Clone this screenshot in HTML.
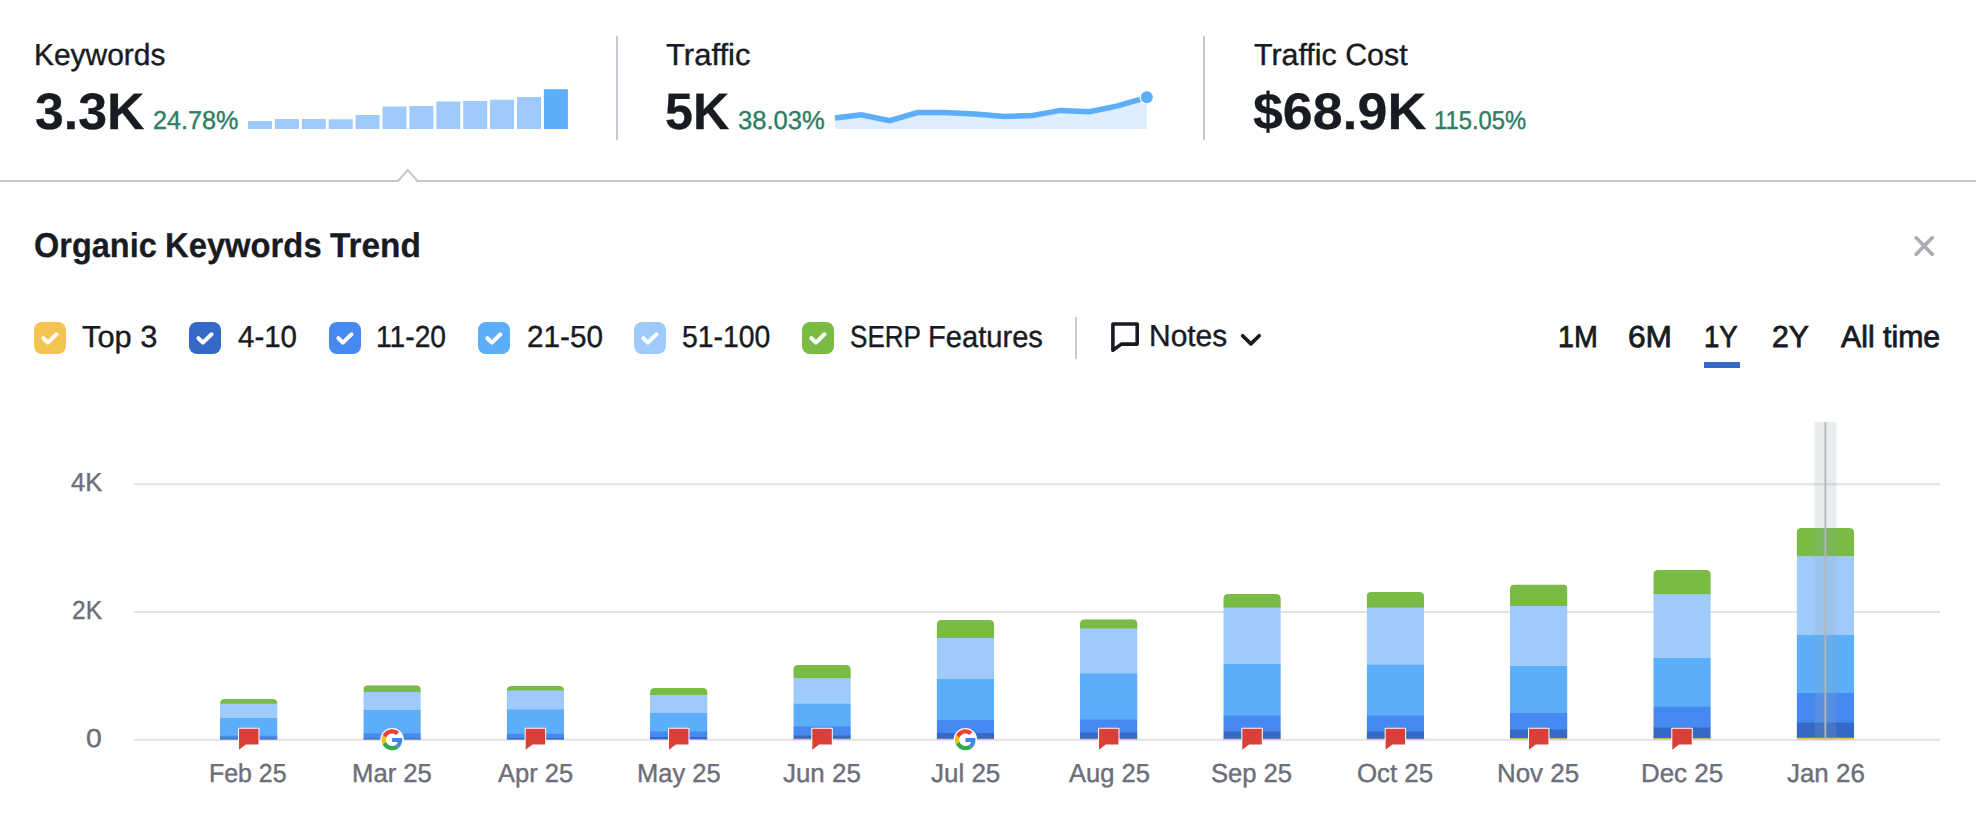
<!DOCTYPE html>
<html lang="en"><head><meta charset="utf-8"><title>Organic Keywords Trend</title>
<style>
html,body{margin:0;padding:0;background:#fff}
body{width:1976px;height:832px;overflow:hidden;position:relative;font-family:"Liberation Sans",Arial,sans-serif;text-rendering:geometricPrecision}
h2,nav,section,label,figure,div{margin:0;padding:0}
.abs{position:absolute}
.t{position:absolute;white-space:pre;line-height:1;display:block;transform-origin:0 0;-webkit-text-stroke:0.4px currentColor}
.val,.title{-webkit-text-stroke:0.3px currentColor}
.tab{-webkit-text-stroke:0.8px currentColor}
.vdiv{position:absolute;width:2px;background:#c4c7cf}
.hr{position:absolute;left:0;top:180px;width:1976px;height:2px;background:#c4c7cf}
.cb{position:absolute;top:322px;width:32px;height:32px;border-radius:8px;display:block}
.cb svg{display:block}
.lbl{font-size:30.4px}.leg{font-size:30.4px}.notes{font-size:30.4px}.tab{font-size:30.4px}.val{font-size:51.4px}.pct{font-size:25.9px}.title{font-size:34.4px}.ytick{font-size:26px}.xtick{font-size:26px}
.ul{position:absolute;left:1704px;top:362px;width:36px;height:6px;background:#3569c7}
</style></head>
<body>
<section class="summary">
<div class="metric metric-keywords"><span class="t lbl" style="left:33.53px;top:40px;font-weight:400;color:#191b23;transform:scaleX(0.9843)">Keywords</span><span class="t val" style="left:34.79px;top:86px;font-weight:700;color:#191b23;transform:scaleX(1.0074)">3.3K</span><span class="t pct" style="left:152.78px;top:109px;font-weight:400;color:#2f7d64;transform:scaleX(0.9738)">24.78%</span>
<svg class="abs" style="left:0;top:0" width="600" height="140" viewBox="0 0 600 140"><rect x="248.0" y="121" width="24" height="8" fill="#9fcbfc"/><rect x="274.9" y="119" width="24" height="10" fill="#9fcbfc"/><rect x="301.8" y="119" width="24" height="10" fill="#9fcbfc"/><rect x="328.7" y="119.25" width="24" height="9.75" fill="#9fcbfc"/><rect x="355.6" y="115" width="24" height="14" fill="#9fcbfc"/><rect x="382.5" y="106.5" width="24" height="22.5" fill="#9fcbfc"/><rect x="409.4" y="106" width="24" height="23" fill="#9fcbfc"/><rect x="436.3" y="101.5" width="24" height="27.5" fill="#9fcbfc"/><rect x="463.2" y="101" width="24" height="28" fill="#9fcbfc"/><rect x="490.1" y="99.75" width="24" height="29.25" fill="#9fcbfc"/><rect x="517.0" y="97" width="24" height="32" fill="#9fcbfc"/><rect x="543.9" y="89.25" width="24" height="39.75" fill="#5cadfa"/></svg>
</div>
<div class="vdiv" style="left:616px;top:36px;height:104px"></div>
<div class="metric metric-traffic"><span class="t lbl" style="left:666.30px;top:40px;font-weight:400;color:#191b23;transform:scaleX(1.0208)">Traffic</span><span class="t val" style="left:665.27px;top:86px;font-weight:700;color:#191b23;transform:scaleX(0.9766)">5K</span><span class="t pct" style="left:738.26px;top:109px;font-weight:400;color:#2f7d64;transform:scaleX(0.9884)">38.03%</span>
<svg class="abs" style="left:0;top:0" width="1200" height="140" viewBox="0 0 1200 140">
<path d="M835,129 L835,118.10000000000001 L861.2,114.7 L889.7,120.7 L917.4,112.5 L943.6,112.60000000000001 L975.4,114.10000000000001 L1004.4,116.60000000000001 L1032.5,115.4 L1060.6,110.4 L1089.6,111.7 L1117.7,105.9 L1146.8,97.30000000000001 L1146.8,129 Z" fill="#deeefe"/>
<polyline points="835,118.10000000000001 861.2,114.7 889.7,120.7 917.4,112.5 943.6,112.60000000000001 975.4,114.10000000000001 1004.4,116.60000000000001 1032.5,115.4 1060.6,110.4 1089.6,111.7 1117.7,105.9 1146.8,97.30000000000001" fill="none" stroke="#5cadfa" stroke-width="5.5" stroke-linejoin="miter"/>
<circle cx="1146.8" cy="97.30000000000001" r="7.2" fill="#fff"/>
<circle cx="1146.8" cy="97.30000000000001" r="6" fill="#5cadfa"/>
</svg>
</div>
<div class="vdiv" style="left:1203px;top:36px;height:104px"></div>
<div class="metric metric-cost"><span class="t lbl" style="left:1253.56px;top:40px;font-weight:400;color:#191b23;transform:scaleX(0.9999)">Traffic Cost</span><span class="t val" style="left:1253.29px;top:86px;font-weight:700;color:#191b23;transform:scaleX(1.0452)">$68.9K</span><span class="t pct" style="left:1433.69px;top:109px;font-weight:400;color:#2f7d64;transform:scaleX(0.9194)">115.05%</span></div>
<div class="hr"></div>
<svg class="abs" style="left:390px;top:164px" width="36" height="20" viewBox="390 164 36 20"><path d="M398.5,182 L407.75,170.5 L417,182 Z" fill="#fff"/><path d="M398,181 L407.75,170 L417.5,181" fill="none" stroke="#c4c7cf" stroke-width="2" stroke-linejoin="miter"/></svg>
</section>
<section class="trend">
<h2><span class="t title" style="left:34.26px;top:229px;font-weight:700;color:#191b23;transform:scaleX(0.9445)">Organic </span><span class="t title" style="left:164.69px;top:229px;font-weight:700;color:#191b23;transform:scaleX(0.9528)">Keywords </span><span class="t title" style="left:330.00px;top:229px;font-weight:700;color:#191b23;transform:scaleX(0.9705)">Trend</span></h2>
<div class="close"><svg class="abs" style="left:1910px;top:232px" width="28" height="28" viewBox="1910 232 28 28"><path d="M1916.2,237.8 L1932.2,254.2 M1932.2,237.8 L1916.2,254.2" stroke="#a9abb6" stroke-width="3.6" stroke-linecap="round" fill="none"/></svg></div>
<div class="legend">
<label class="legend-item"><span class="cb" style="left:34px;background:#f4c451"><svg width="32" height="32" viewBox="0 0 32 32"><polyline points="9.4,16.2 13.9,20.6 22.5,12.3" fill="none" stroke="#fff" stroke-width="4" stroke-linecap="round" stroke-linejoin="round"/></svg></span><span class="t leg" style="left:82.30px;top:322px;font-weight:400;color:#191b23;transform:scaleX(1.0128)">Top 3</span></label>
<label class="legend-item"><span class="cb" style="left:189px;background:#3569c7"><svg width="32" height="32" viewBox="0 0 32 32"><polyline points="9.4,16.2 13.9,20.6 22.5,12.3" fill="none" stroke="#fff" stroke-width="4" stroke-linecap="round" stroke-linejoin="round"/></svg></span><span class="t leg" style="left:237.57px;top:322px;font-weight:400;color:#191b23;transform:scaleX(0.9697)">4-10</span></label>
<label class="legend-item"><span class="cb" style="left:329px;background:#4689f1"><svg width="32" height="32" viewBox="0 0 32 32"><polyline points="9.4,16.2 13.9,20.6 22.5,12.3" fill="none" stroke="#fff" stroke-width="4" stroke-linecap="round" stroke-linejoin="round"/></svg></span><span class="t leg" style="left:376.14px;top:322px;font-weight:400;color:#191b23;transform:scaleX(0.9281)">11-20</span></label>
<label class="legend-item"><span class="cb" style="left:478px;background:#5cadfa"><svg width="32" height="32" viewBox="0 0 32 32"><polyline points="9.4,16.2 13.9,20.6 22.5,12.3" fill="none" stroke="#fff" stroke-width="4" stroke-linecap="round" stroke-linejoin="round"/></svg></span><span class="t leg" style="left:526.50px;top:322px;font-weight:400;color:#191b23;transform:scaleX(0.9780)">21-50</span></label>
<label class="legend-item"><span class="cb" style="left:634px;background:#9fcbfc"><svg width="32" height="32" viewBox="0 0 32 32"><polyline points="9.4,16.2 13.9,20.6 22.5,12.3" fill="none" stroke="#fff" stroke-width="4" stroke-linecap="round" stroke-linejoin="round"/></svg></span><span class="t leg" style="left:681.59px;top:322px;font-weight:400;color:#191b23;transform:scaleX(0.9329)">51-100</span></label>
<label class="legend-item"><span class="cb" style="left:802px;background:#7abb46"><svg width="32" height="32" viewBox="0 0 32 32"><polyline points="9.4,16.2 13.9,20.6 22.5,12.3" fill="none" stroke="#fff" stroke-width="4" stroke-linecap="round" stroke-linejoin="round"/></svg></span><span class="t leg" style="left:849.53px;top:322px;font-weight:400;color:#191b23;transform:scaleX(0.8576)">SERP </span><span class="t leg" style="left:928.00px;top:322px;font-weight:400;color:#191b23;transform:scaleX(0.9580)">Features</span></label>
</div>
<div class="vdiv" style="left:1075px;top:317px;height:42px;background:#c9c9c9"></div>
<div class="notes-toggle">
<svg class="abs" style="left:1106px;top:318px" width="40" height="40" viewBox="1106 318 40 40"><path d="M1112.9,324 H1137.2 V344.1 H1121.3 L1112.9,350.2 Z" fill="none" stroke="#191b23" stroke-width="3.6" stroke-linejoin="round"/></svg>
<span class="t notes" style="left:1148.53px;top:321px;font-weight:400;color:#191b23;transform:scaleX(0.9857)">Notes</span>
<svg class="abs" style="left:1236px;top:328px" width="30" height="24" viewBox="1236 328 30 24"><polyline points="1242.6,335.7 1250.9,343.9 1259.2,335.7" fill="none" stroke="#191b23" stroke-width="3.7" stroke-linecap="round" stroke-linejoin="round"/></svg>
</div>
<nav class="range-tabs"><div class="tab-item"><span class="t tab" style="left:1558.12px;top:322px;font-weight:400;color:#191b23;transform:scaleX(0.9408)">1M</span></div><div class="tab-item"><span class="t tab" style="left:1628.32px;top:322px;font-weight:400;color:#191b23;transform:scaleX(1.0419)">6M</span></div><div class="tab-item"><span class="t tab" style="left:1704.19px;top:322px;font-weight:400;color:#191b23;transform:scaleX(0.9049)">1Y</span></div><div class="tab-item"><span class="t tab" style="left:1771.72px;top:322px;font-weight:400;color:#191b23;transform:scaleX(0.9936)">2Y</span></div><div class="tab-item"><span class="t tab" style="left:1841.25px;top:322px;font-weight:400;color:#191b23;transform:scaleX(0.9951)">All time</span></div><div class="ul"></div></nav>
<figure class="chart">
<svg class="abs" style="left:0;top:0" width="1976" height="832" viewBox="0 0 1976 832"><defs><clipPath id="c0"><path d="M220.0,739.75 V704 Q220.0,699 225.0,699 H272.5 Q277.5,699 277.5,704 V739.75 Z"/></clipPath><clipPath id="c1"><path d="M363.33000000000004,739.75 V690.25 Q363.33000000000004,685.25 368.33000000000004,685.25 H415.83000000000004 Q420.83000000000004,685.25 420.83000000000004,690.25 V739.75 Z"/></clipPath><clipPath id="c2"><path d="M506.6600000000001,739.75 V691 Q506.6600000000001,686 511.6600000000001,686 H559.1600000000001 Q564.1600000000001,686 564.1600000000001,691 V739.75 Z"/></clipPath><clipPath id="c3"><path d="M649.99,739.75 V693 Q649.99,688 654.99,688 H702.49 Q707.49,688 707.49,693 V739.75 Z"/></clipPath><clipPath id="c4"><path d="M793.32,739.75 V670 Q793.32,665 798.32,665 H845.82 Q850.82,665 850.82,670 V739.75 Z"/></clipPath><clipPath id="c5"><path d="M936.6500000000001,739.75 V625 Q936.6500000000001,620 941.6500000000001,620 H989.1500000000001 Q994.1500000000001,620 994.1500000000001,625 V739.75 Z"/></clipPath><clipPath id="c6"><path d="M1079.98,739.75 V624.25 Q1079.98,619.25 1084.98,619.25 H1132.48 Q1137.48,619.25 1137.48,624.25 V739.75 Z"/></clipPath><clipPath id="c7"><path d="M1223.31,739.75 V599 Q1223.31,594 1228.31,594 H1275.81 Q1280.81,594 1280.81,599 V739.75 Z"/></clipPath><clipPath id="c8"><path d="M1366.64,739.75 V597 Q1366.64,592 1371.64,592 H1419.14 Q1424.14,592 1424.14,597 V739.75 Z"/></clipPath><clipPath id="c9"><path d="M1509.97,739.75 V589.5 Q1509.97,584.5 1514.97,584.5 H1562.47 Q1567.47,584.5 1567.47,589.5 V739.75 Z"/></clipPath><clipPath id="c10"><path d="M1653.3000000000002,739.75 V575 Q1653.3000000000002,570 1658.3000000000002,570 H1705.8000000000002 Q1710.8000000000002,570 1710.8000000000002,575 V739.75 Z"/></clipPath><clipPath id="c11"><path d="M1796.63,739.75 V533 Q1796.63,528 1801.63,528 H1849.13 Q1854.13,528 1854.13,533 V739.75 Z"/></clipPath></defs><rect x="134" y="483.25" width="1806" height="2" fill="#e0e1e9"/><rect x="134" y="611" width="1806" height="2" fill="#e0e1e9"/><rect x="134" y="738.75" width="1806" height="2" fill="#e0e1e9"/><g clip-path="url(#c0)"><rect x="220.0" y="699" width="57.5" height="5.25" fill="#7abb46"/><rect x="220.0" y="703.75" width="57.5" height="14.75" fill="#9fcbfc"/><rect x="220.0" y="718" width="57.5" height="18.25" fill="#5cadfa"/><rect x="220.0" y="735.75" width="57.5" height="3.00" fill="#4689f1"/><rect x="220.0" y="738.25" width="57.5" height="1.85" fill="#3569c7"/><rect x="220.0" y="739.6" width="57.5" height="0.65" fill="#f4c451"/></g><g clip-path="url(#c1)"><rect x="363.33000000000004" y="685.25" width="57.5" height="7.25" fill="#7abb46"/><rect x="363.33000000000004" y="692" width="57.5" height="18.50" fill="#9fcbfc"/><rect x="363.33000000000004" y="710" width="57.5" height="23.75" fill="#5cadfa"/><rect x="363.33000000000004" y="733.25" width="57.5" height="5.50" fill="#4689f1"/><rect x="363.33000000000004" y="738.25" width="57.5" height="1.85" fill="#3569c7"/><rect x="363.33000000000004" y="739.6" width="57.5" height="0.65" fill="#f4c451"/></g><g clip-path="url(#c2)"><rect x="506.6600000000001" y="686" width="57.5" height="5.00" fill="#7abb46"/><rect x="506.6600000000001" y="690.5" width="57.5" height="19.50" fill="#9fcbfc"/><rect x="506.6600000000001" y="709.5" width="57.5" height="24.75" fill="#5cadfa"/><rect x="506.6600000000001" y="733.75" width="57.5" height="4.75" fill="#4689f1"/><rect x="506.6600000000001" y="738" width="57.5" height="2.10" fill="#3569c7"/><rect x="506.6600000000001" y="739.6" width="57.5" height="0.65" fill="#f4c451"/></g><g clip-path="url(#c3)"><rect x="649.99" y="688" width="57.5" height="7.50" fill="#7abb46"/><rect x="649.99" y="695" width="57.5" height="18.50" fill="#9fcbfc"/><rect x="649.99" y="713" width="57.5" height="18.75" fill="#5cadfa"/><rect x="649.99" y="731.25" width="57.5" height="6.25" fill="#4689f1"/><rect x="649.99" y="737" width="57.5" height="2.80" fill="#3569c7"/><rect x="649.99" y="739.3" width="57.5" height="0.95" fill="#f4c451"/></g><g clip-path="url(#c4)"><rect x="793.32" y="665" width="57.5" height="13.75" fill="#7abb46"/><rect x="793.32" y="678.25" width="57.5" height="26.00" fill="#9fcbfc"/><rect x="793.32" y="703.75" width="57.5" height="23.25" fill="#5cadfa"/><rect x="793.32" y="726.5" width="57.5" height="9.25" fill="#4689f1"/><rect x="793.32" y="735.25" width="57.5" height="4.00" fill="#3569c7"/><rect x="793.32" y="738.75" width="57.5" height="1.50" fill="#f4c451"/></g><g clip-path="url(#c5)"><rect x="936.6500000000001" y="620" width="57.5" height="18.50" fill="#7abb46"/><rect x="936.6500000000001" y="638" width="57.5" height="41.50" fill="#9fcbfc"/><rect x="936.6500000000001" y="679" width="57.5" height="41.50" fill="#5cadfa"/><rect x="936.6500000000001" y="720" width="57.5" height="13.50" fill="#4689f1"/><rect x="936.6500000000001" y="733" width="57.5" height="6.25" fill="#3569c7"/><rect x="936.6500000000001" y="738.75" width="57.5" height="1.50" fill="#f4c451"/></g><g clip-path="url(#c6)"><rect x="1079.98" y="619.25" width="57.5" height="9.75" fill="#7abb46"/><rect x="1079.98" y="628.5" width="57.5" height="45.50" fill="#9fcbfc"/><rect x="1079.98" y="673.5" width="57.5" height="46.50" fill="#5cadfa"/><rect x="1079.98" y="719.5" width="57.5" height="13.50" fill="#4689f1"/><rect x="1079.98" y="732.5" width="57.5" height="6.75" fill="#3569c7"/><rect x="1079.98" y="738.75" width="57.5" height="1.50" fill="#f4c451"/></g><g clip-path="url(#c7)"><rect x="1223.31" y="594" width="57.5" height="14.00" fill="#7abb46"/><rect x="1223.31" y="607.5" width="57.5" height="57.00" fill="#9fcbfc"/><rect x="1223.31" y="664" width="57.5" height="52.00" fill="#5cadfa"/><rect x="1223.31" y="715.5" width="57.5" height="16.25" fill="#4689f1"/><rect x="1223.31" y="731.25" width="57.5" height="8.00" fill="#3569c7"/><rect x="1223.31" y="738.75" width="57.5" height="1.50" fill="#f4c451"/></g><g clip-path="url(#c8)"><rect x="1366.64" y="592" width="57.5" height="16.00" fill="#7abb46"/><rect x="1366.64" y="607.5" width="57.5" height="57.75" fill="#9fcbfc"/><rect x="1366.64" y="664.75" width="57.5" height="51.25" fill="#5cadfa"/><rect x="1366.64" y="715.5" width="57.5" height="16.50" fill="#4689f1"/><rect x="1366.64" y="731.5" width="57.5" height="7.75" fill="#3569c7"/><rect x="1366.64" y="738.75" width="57.5" height="1.50" fill="#f4c451"/></g><g clip-path="url(#c9)"><rect x="1509.97" y="584.5" width="57.5" height="22.00" fill="#7abb46"/><rect x="1509.97" y="606" width="57.5" height="60.50" fill="#9fcbfc"/><rect x="1509.97" y="666" width="57.5" height="47.50" fill="#5cadfa"/><rect x="1509.97" y="713" width="57.5" height="17.00" fill="#4689f1"/><rect x="1509.97" y="729.5" width="57.5" height="9.25" fill="#3569c7"/><rect x="1509.97" y="738.25" width="57.5" height="2.00" fill="#f4c451"/></g><g clip-path="url(#c10)"><rect x="1653.3000000000002" y="570" width="57.5" height="24.75" fill="#7abb46"/><rect x="1653.3000000000002" y="594.25" width="57.5" height="64.25" fill="#9fcbfc"/><rect x="1653.3000000000002" y="658" width="57.5" height="49.25" fill="#5cadfa"/><rect x="1653.3000000000002" y="706.75" width="57.5" height="21.25" fill="#4689f1"/><rect x="1653.3000000000002" y="727.5" width="57.5" height="11.25" fill="#3569c7"/><rect x="1653.3000000000002" y="738.25" width="57.5" height="2.00" fill="#f4c451"/></g><g clip-path="url(#c11)"><rect x="1796.63" y="528" width="57.5" height="28.75" fill="#7abb46"/><rect x="1796.63" y="556.25" width="57.5" height="79.25" fill="#9fcbfc"/><rect x="1796.63" y="635" width="57.5" height="58.50" fill="#5cadfa"/><rect x="1796.63" y="693" width="57.5" height="30.00" fill="#4689f1"/><rect x="1796.63" y="722.5" width="57.5" height="15.75" fill="#3569c7"/><rect x="1796.63" y="737.75" width="57.5" height="2.50" fill="#f4c451"/></g><rect x="1814.38" y="422" width="22" height="317.75" fill="#91a5aa" fill-opacity="0.2"/><rect x="1824.48" y="422" width="1.8" height="317.75" fill="#b0b7bb"/><path d="M239.0,728.75 H258.5 V744.5 H245.8 L239.0,749.75 Z" fill="#d9403a" stroke="#fff" stroke-width="2" stroke-linejoin="round" paint-order="stroke"/><g transform="translate(381.58000000000004,729.25) scale(0.4375)"><circle cx="24" cy="24" r="27" fill="#fff"/><path fill="#ea4335" d="M24 9.5c3.54 0 6.71 1.22 9.21 3.6l6.85-6.85C35.9 2.38 30.47 0 24 0 14.62 0 6.51 5.38 2.56 13.22l7.98 6.19C12.43 13.72 17.74 9.5 24 9.5z"/><path fill="#4285f4" d="M46.98 24.55c0-1.57-.15-3.09-.38-4.55H24v9.02h12.94c-.58 2.96-2.26 5.48-4.78 7.18l7.73 6c4.51-4.18 7.09-10.36 7.09-17.65z"/><path fill="#fbbc05" d="M10.53 28.59c-.48-1.45-.76-2.99-.76-4.59s.27-3.14.76-4.59l-7.98-6.19C.92 16.46 0 20.12 0 24c0 3.88.92 7.54 2.56 10.78l7.97-6.19z"/><path fill="#34a853" d="M24 48c6.48 0 11.93-2.13 15.89-5.81l-7.73-6c-2.15 1.45-4.92 2.3-8.16 2.3-6.26 0-11.57-4.22-13.47-9.91l-7.98 6.19C6.51 42.62 14.62 48 24 48z"/></g><path d="M525.6600000000001,728.75 H545.1600000000001 V744.5 H532.46 L525.6600000000001,749.75 Z" fill="#d9403a" stroke="#fff" stroke-width="2" stroke-linejoin="round" paint-order="stroke"/><path d="M668.99,728.75 H688.49 V744.5 H675.79 L668.99,749.75 Z" fill="#d9403a" stroke="#fff" stroke-width="2" stroke-linejoin="round" paint-order="stroke"/><path d="M812.32,728.75 H831.82 V744.5 H819.12 L812.32,749.75 Z" fill="#d9403a" stroke="#fff" stroke-width="2" stroke-linejoin="round" paint-order="stroke"/><g transform="translate(954.9000000000001,729.25) scale(0.4375)"><circle cx="24" cy="24" r="27" fill="#fff"/><path fill="#ea4335" d="M24 9.5c3.54 0 6.71 1.22 9.21 3.6l6.85-6.85C35.9 2.38 30.47 0 24 0 14.62 0 6.51 5.38 2.56 13.22l7.98 6.19C12.43 13.72 17.74 9.5 24 9.5z"/><path fill="#4285f4" d="M46.98 24.55c0-1.57-.15-3.09-.38-4.55H24v9.02h12.94c-.58 2.96-2.26 5.48-4.78 7.18l7.73 6c4.51-4.18 7.09-10.36 7.09-17.65z"/><path fill="#fbbc05" d="M10.53 28.59c-.48-1.45-.76-2.99-.76-4.59s.27-3.14.76-4.59l-7.98-6.19C.92 16.46 0 20.12 0 24c0 3.88.92 7.54 2.56 10.78l7.97-6.19z"/><path fill="#34a853" d="M24 48c6.48 0 11.93-2.13 15.89-5.81l-7.73-6c-2.15 1.45-4.92 2.3-8.16 2.3-6.26 0-11.57-4.22-13.47-9.91l-7.98 6.19C6.51 42.62 14.62 48 24 48z"/></g><path d="M1098.98,728.75 H1118.48 V744.5 H1105.78 L1098.98,749.75 Z" fill="#d9403a" stroke="#fff" stroke-width="2" stroke-linejoin="round" paint-order="stroke"/><path d="M1242.31,728.75 H1261.81 V744.5 H1249.11 L1242.31,749.75 Z" fill="#d9403a" stroke="#fff" stroke-width="2" stroke-linejoin="round" paint-order="stroke"/><path d="M1385.64,728.75 H1405.14 V744.5 H1392.44 L1385.64,749.75 Z" fill="#d9403a" stroke="#fff" stroke-width="2" stroke-linejoin="round" paint-order="stroke"/><path d="M1528.97,728.75 H1548.47 V744.5 H1535.77 L1528.97,749.75 Z" fill="#d9403a" stroke="#fff" stroke-width="2" stroke-linejoin="round" paint-order="stroke"/><path d="M1672.3000000000002,728.75 H1691.8000000000002 V744.5 H1679.1000000000001 L1672.3000000000002,749.75 Z" fill="#d9403a" stroke="#fff" stroke-width="2" stroke-linejoin="round" paint-order="stroke"/></svg>
<div class="y-axis"><span class="t ytick" style="left:70.66px;top:469px;font-weight:400;color:#6c6e79;transform:scaleX(0.9817)">4K</span><span class="t ytick" style="left:71.56px;top:597px;font-weight:400;color:#6c6e79;transform:scaleX(0.9449)">2K</span><span class="t ytick" style="left:86.41px;top:725px;font-weight:400;color:#6c6e79;transform:scaleX(1.0904)">0</span></div>
<div class="x-axis"><span class="t xtick" style="left:209.46px;top:760px;font-weight:400;color:#6c6e79;transform:scaleX(0.9583)">Feb 25</span><span class="t xtick" style="left:351.61px;top:760px;font-weight:400;color:#6c6e79;transform:scaleX(0.9872)">Mar 25</span><span class="t xtick" style="left:498.16px;top:760px;font-weight:400;color:#6c6e79;transform:scaleX(0.9803)">Apr 25</span><span class="t xtick" style="left:636.53px;top:760px;font-weight:400;color:#6c6e79;transform:scaleX(0.9811)">May 25</span><span class="t xtick" style="left:783.34px;top:760px;font-weight:400;color:#6c6e79;transform:scaleX(0.9965)">Jun 25</span><span class="t xtick" style="left:930.92px;top:760px;font-weight:400;color:#6c6e79;transform:scaleX(0.9988)">Jul 25</span><span class="t xtick" style="left:1068.73px;top:760px;font-weight:400;color:#6c6e79;transform:scaleX(0.9838)">Aug 25</span><span class="t xtick" style="left:1211.31px;top:760px;font-weight:400;color:#6c6e79;transform:scaleX(0.9839)">Sep 25</span><span class="t xtick" style="left:1357.15px;top:760px;font-weight:400;color:#6c6e79;transform:scaleX(0.9933)">Oct 25</span><span class="t xtick" style="left:1497.23px;top:760px;font-weight:400;color:#6c6e79;transform:scaleX(0.9960)">Nov 25</span><span class="t xtick" style="left:1640.56px;top:760px;font-weight:400;color:#6c6e79;transform:scaleX(0.9960)">Dec 25</span><span class="t xtick" style="left:1786.65px;top:760px;font-weight:400;color:#6c6e79;transform:scaleX(0.9965)">Jan 26</span></div>
</figure>
</section>
</body></html>
